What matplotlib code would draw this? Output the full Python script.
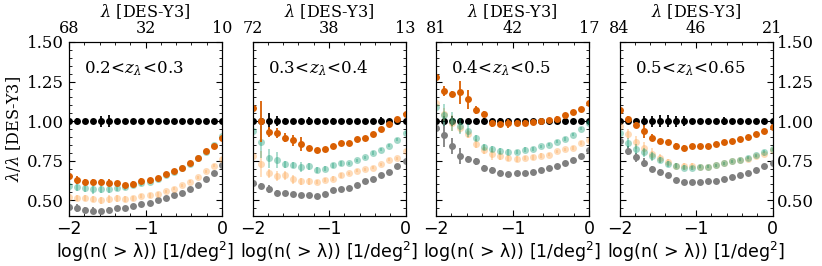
import matplotlib
matplotlib.use("Agg")
import matplotlib.pyplot as plt
from matplotlib.ticker import MultipleLocator, FixedLocator, FormatStrFormatter

# ---------------- data ----------------
x_logn = [-2.0, -1.895, -1.789, -1.684, -1.579, -1.474, -1.368, -1.263, -1.158, -1.053,
          -0.947, -0.842, -0.737, -0.632, -0.526, -0.421, -0.316, -0.211, -0.105, 0.0]

z_labels = [r"$0.2\!<\!z_\lambda\!<\!0.3$", r"$0.3\!<\!z_\lambda\!<\!0.4$",
            r"$0.4\!<\!z_\lambda\!<\!0.5$", r"$0.5\!<\!z_\lambda\!<\!0.65$"]
top_ticklabels = [["68", "32", "10"], ["72", "38", "13"], ["81", "42", "17"], ["84", "46", "21"]]

ref_vals = [1.0, 1.0, 1.0, 1.0, 1.0, 1.0, 1.0, 1.0, 1.0, 1.0,
            1.0, 1.0, 1.0, 1.0, 1.0, 1.0, 1.0, 1.0, 1.0, 1.0]
ref_err = [
    [0.015, 0.02, 0.015, 0.015, 0.035, 0.04, 0.015, 0.015, 0.015, 0.015,
     0.015, 0.015, 0.015, 0.015, 0.015, 0.015, 0.015, 0.015, 0.015, 0.015],
    [0.015, 0.02, 0.05, 0.03, 0.02, 0.015, 0.015, 0.025, 0.015, 0.015,
     0.02, 0.015, 0.015, 0.015, 0.015, 0.015, 0.025, 0.015, 0.015, 0.015],
    [0.015, 0.03, 0.03, 0.02, 0.015, 0.015, 0.02, 0.015, 0.02, 0.015,
     0.015, 0.015, 0.015, 0.015, 0.015, 0.015, 0.015, 0.015, 0.015, 0.015],
    [0.015, 0.02, 0.015, 0.03, 0.035, 0.04, 0.04, 0.035, 0.03, 0.015,
     0.015, 0.015, 0.015, 0.025, 0.015, 0.015, 0.015, 0.015, 0.015, 0.015],
]

orange_vals = [
    [0.653, 0.626, 0.615, 0.615, 0.613, 0.611, 0.606, 0.596, 0.604, 0.623,
     0.626, 0.640, 0.666, 0.683, 0.706, 0.732, 0.764, 0.809, 0.845, 0.891],
    [1.080, 1.000, 0.930, 0.925, 0.895, 0.878, 0.855, 0.830, 0.815, 0.823,
     0.843, 0.862, 0.864, 0.887, 0.896, 0.920, 0.949, 0.983, 1.011, 1.047],
    [1.277, 1.191, 1.172, 1.181, 1.138, 1.070, 1.043, 0.985, 0.983, 0.985,
     0.989, 0.989, 0.996, 0.998, 1.004, 1.015, 1.036, 1.057, 1.079, 1.117],
    [1.068, 1.011, 0.977, 0.936, 0.896, 0.874, 0.866, 0.845, 0.832, 0.843,
     0.840, 0.840, 0.857, 0.866, 0.874, 0.887, 0.902, 0.921, 0.938, 0.960],
]
orange_err = [
    [0.02, 0.025, 0.02, 0.02, 0.02, 0.02, 0.015, 0.015, 0.015, 0.015,
     0.015, 0.015, 0.015, 0.015, 0.01, 0.01, 0.01, 0.01, 0.01, 0.01],
    [0.03, 0.13, 0.03, 0.03, 0.03, 0.035, 0.045, 0.015, 0.015, 0.015,
     0.01, 0.01, 0.01, 0.01, 0.01, 0.01, 0.01, 0.01, 0.01, 0.01],
    [0.02, 0.03, 0.02, 0.07, 0.06, 0.025, 0.02, 0.025, 0.02, 0.03,
     0.02, 0.02, 0.015, 0.015, 0.015, 0.015, 0.01, 0.01, 0.01, 0.01],
    [0.03, 0.02, 0.02, 0.04, 0.02, 0.015, 0.015, 0.015, 0.015, 0.015,
     0.015, 0.015, 0.01, 0.01, 0.01, 0.01, 0.01, 0.01, 0.01, 0.01],
]

teal_vals = [
    [0.590, 0.585, 0.579, 0.572, 0.572, 0.572, 0.577, 0.585, 0.594, 0.606,
     0.615, 0.632, 0.657, 0.679, 0.704, 0.730, 0.764, 0.802, 0.851, 0.904],
    [0.936, 0.866, 0.766, 0.753, 0.726, 0.721, 0.711, 0.713, 0.689, 0.700,
     0.721, 0.734, 0.734, 0.753, 0.772, 0.798, 0.819, 0.845, 0.883, 0.926],
    [1.090, 1.040, 1.000, 0.970, 0.940, 0.894, 0.836, 0.823, 0.809, 0.804,
     0.804, 0.819, 0.823, 0.840, 0.851, 0.870, 0.887, 0.915, 0.951, 0.989],
    [0.926, 0.862, 0.823, 0.802, 0.777, 0.755, 0.728, 0.717, 0.706, 0.704,
     0.711, 0.711, 0.721, 0.734, 0.747, 0.755, 0.768, 0.785, 0.806, 0.823],
]
teal_err = [
    [0.03, 0.03, 0.03, 0.03, 0.025, 0.025, 0.02, 0.02, 0.02, 0.015,
     0.015, 0.015, 0.015, 0.01, 0.01, 0.01, 0.01, 0.01, 0.01, 0.01],
    [0.04, 0.10, 0.06, 0.05, 0.02, 0.02, 0.03, 0.02, 0.02, 0.015,
     0.015, 0.015, 0.01, 0.01, 0.01, 0.01, 0.01, 0.01, 0.01, 0.01],
    [0.04, 0.07, 0.06, 0.05, 0.04, 0.02, 0.02, 0.02, 0.02, 0.02,
     0.015, 0.015, 0.015, 0.01, 0.01, 0.01, 0.01, 0.01, 0.01, 0.01],
    [0.03, 0.03, 0.03, 0.03, 0.03, 0.02, 0.02, 0.015, 0.015, 0.015,
     0.01, 0.01, 0.01, 0.01, 0.01, 0.01, 0.01, 0.01, 0.01, 0.01],
]

peach_vals = [
    [0.521, 0.515, 0.513, 0.509, 0.498, 0.506, 0.511, 0.506, 0.511, 0.526,
     0.530, 0.538, 0.557, 0.572, 0.594, 0.617, 0.645, 0.683, 0.717, 0.760],
    [0.777, 0.728, 0.670, 0.653, 0.657, 0.632, 0.619, 0.619, 0.615, 0.628,
     0.636, 0.657, 0.670, 0.687, 0.696, 0.704, 0.726, 0.755, 0.764, 0.813],
    [1.117, 1.043, 0.990, 0.957, 0.921, 0.857, 0.819, 0.791, 0.781, 0.766,
     0.762, 0.766, 0.770, 0.781, 0.787, 0.809, 0.823, 0.830, 0.862, 0.879],
    [0.972, 0.919, 0.866, 0.828, 0.791, 0.764, 0.743, 0.717, 0.717, 0.717,
     0.709, 0.711, 0.721, 0.734, 0.747, 0.751, 0.760, 0.777, 0.789, 0.819],
]
peach_err = [
    [0.02, 0.02, 0.02, 0.02, 0.02, 0.025, 0.02, 0.02, 0.015, 0.015,
     0.015, 0.015, 0.01, 0.01, 0.01, 0.01, 0.01, 0.01, 0.01, 0.01],
    [0.04, 0.08, 0.03, 0.03, 0.03, 0.03, 0.02, 0.02, 0.015, 0.015,
     0.015, 0.015, 0.01, 0.01, 0.01, 0.01, 0.01, 0.01, 0.01, 0.01],
    [0.04, 0.04, 0.05, 0.03, 0.03, 0.03, 0.03, 0.04, 0.03, 0.02,
     0.02, 0.015, 0.015, 0.015, 0.01, 0.01, 0.01, 0.01, 0.01, 0.01],
    [0.03, 0.03, 0.04, 0.04, 0.04, 0.03, 0.02, 0.02, 0.02, 0.015,
     0.015, 0.01, 0.01, 0.01, 0.01, 0.01, 0.01, 0.01, 0.01, 0.01],
]

grey_vals = [
    [0.460, 0.451, 0.436, 0.434, 0.430, 0.440, 0.451, 0.451, 0.462, 0.477,
     0.483, 0.500, 0.513, 0.530, 0.547, 0.568, 0.598, 0.632, 0.670, 0.721],
    [0.611, 0.589, 0.568, 0.547, 0.543, 0.536, 0.530, 0.532, 0.526, 0.538,
     0.564, 0.572, 0.577, 0.594, 0.619, 0.632, 0.657, 0.679, 0.717, 0.747],
    [0.957, 0.915, 0.845, 0.777, 0.760, 0.745, 0.702, 0.691, 0.674, 0.666,
     0.670, 0.674, 0.681, 0.691, 0.702, 0.713, 0.734, 0.755, 0.781, 0.815],
    [0.877, 0.813, 0.770, 0.738, 0.696, 0.679, 0.657, 0.628, 0.615, 0.615,
     0.615, 0.619, 0.623, 0.636, 0.649, 0.657, 0.670, 0.691, 0.717, 0.734],
]
grey_err = [
    [0.02, 0.025, 0.02, 0.02, 0.015, 0.015, 0.015, 0.015, 0.01, 0.01,
     0.01, 0.01, 0.01, 0.01, 0.01, 0.01, 0.01, 0.01, 0.01, 0.01],
    [0.02, 0.02, 0.025, 0.02, 0.015, 0.015, 0.015, 0.015, 0.01, 0.01,
     0.01, 0.01, 0.01, 0.01, 0.01, 0.01, 0.01, 0.01, 0.01, 0.01],
    [0.03, 0.08, 0.05, 0.05, 0.02, 0.02, 0.02, 0.02, 0.015, 0.015,
     0.01, 0.01, 0.01, 0.01, 0.01, 0.01, 0.01, 0.01, 0.01, 0.01],
    [0.03, 0.03, 0.03, 0.03, 0.02, 0.015, 0.015, 0.01, 0.01, 0.01,
     0.01, 0.01, 0.01, 0.01, 0.01, 0.01, 0.01, 0.01, 0.01, 0.01],
]

# ---------------- style ----------------
C_REF = "black"
C_ORANGE = "#d95f02"
C_TEAL = "#1b9e77"
C_PEACH = "#fdae61"
C_GREY = "#7f7f7f"

SERIF = "DejaVu Serif"
FS = 12.5       # sans bottom axis
FS_SERIF = 11.5  # serif texts

fig = plt.figure(figsize=(8.22, 2.66), dpi=100)
lefts = [69 / 822, 252.5 / 822, 436 / 822, 619.5 / 822]
w = 153 / 822
bottom = 50 / 266
h = 174 / 266

for i in range(4):
    ax = fig.add_axes([lefts[i], bottom, w, h])
    kw = dict(fmt="o", ms=5, elinewidth=1.3, capsize=0, mew=0)
    ax.errorbar(x_logn, ref_vals, yerr=ref_err[i], color=C_REF, zorder=2, **kw)
    ax.errorbar(x_logn, grey_vals[i], yerr=grey_err[i], color=C_GREY, zorder=3, **kw)
    ax.errorbar(x_logn, peach_vals[i], yerr=peach_err[i], color=C_PEACH, alpha=0.45, zorder=4, **kw)
    ax.errorbar(x_logn, teal_vals[i], yerr=teal_err[i], color=C_TEAL, alpha=0.4, zorder=5, **kw)
    ax.errorbar(x_logn, orange_vals[i], yerr=orange_err[i], color=C_ORANGE, zorder=6, **kw)

    ax.set_xlim(-2, 0)
    ax.set_ylim(0.4, 1.5)
    ax.xaxis.set_major_locator(FixedLocator([-2, -1, 0]))
    ax.xaxis.set_minor_locator(MultipleLocator(0.2))
    ax.yaxis.set_major_locator(MultipleLocator(0.25))
    ax.yaxis.set_minor_locator(MultipleLocator(0.05))
    ax.yaxis.set_major_formatter(FormatStrFormatter("%.2f"))
    ax.tick_params(which="both", direction="in", left=True, right=True, bottom=True, top=False)
    ax.tick_params(which="major", length=4)
    ax.tick_params(which="minor", length=2)
    ax.tick_params(axis="x", labelsize=FS, pad=3)
    ax.set_xticklabels(["\u22122", "\u22121", "0"])
    ax.set_xlabel("log(n( > \u03bb)) [1/deg$^2$]", fontsize=FS, labelpad=1)

    if i == 0:
        ax.tick_params(axis="y", labelleft=True, labelright=False)
        ax.set_ylabel(r"$\lambda/\lambda$ [DES-Y3]", fontsize=FS_SERIF, family=SERIF,
                      math_fontfamily="dejavuserif", labelpad=3)
    elif i == 3:
        ax.tick_params(axis="y", labelleft=False, labelright=True)
    else:
        ax.tick_params(axis="y", labelleft=False, labelright=False)
    for lab in ax.get_yticklabels():
        lab.set_family(SERIF)
        lab.set_fontsize(FS_SERIF + 0.5)

    ax.text(0.1, 0.82, z_labels[i], transform=ax.transAxes, fontsize=12,
            math_fontfamily="dejavuserif", family=SERIF)

    top = ax.twiny()
    top.set_xlim(ax.get_xlim())
    top.xaxis.set_major_locator(FixedLocator([-2, -1, 0]))
    top.xaxis.set_minor_locator(MultipleLocator(0.2))
    top.set_xticklabels(top_ticklabels[i], family=SERIF, fontsize=11.5)
    top.tick_params(which="both", direction="in")
    top.tick_params(which="major", length=4, pad=3.5)
    top.tick_params(which="minor", length=2)
    top.set_xlabel(r"$\lambda$ [DES-Y3]", fontsize=11.5, family=SERIF,
                   math_fontfamily="dejavuserif", labelpad=2.5)

fig.savefig("out.png", dpi=100)
